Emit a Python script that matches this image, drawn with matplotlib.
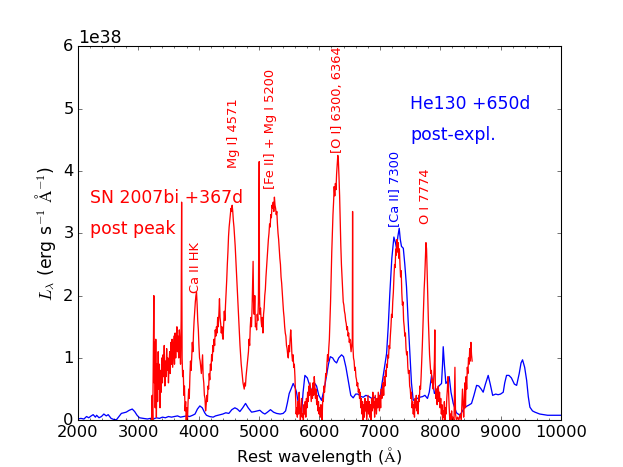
import numpy as np
import matplotlib
matplotlib.use("Agg")
import matplotlib.pyplot as plt
from matplotlib.ticker import MultipleLocator

plt.style.use('classic')

# SN 2007bi, +367d (units of 1e38 erg/s/A)
sn_wave = [3220, 3230, 3240, 3250, 3258, 3265, 3272, 3280, 3290, 3300,
           3310, 3320, 3330, 3340, 3350, 3360, 3370, 3380, 3390, 3400,
           3410, 3420, 3430, 3440, 3450, 3460, 3470, 3480, 3490, 3500,
           3510, 3520, 3530, 3540, 3550, 3560, 3570, 3580, 3590, 3600,
           3610, 3620, 3630, 3640, 3650, 3660, 3670, 3680, 3690, 3700,
           3710, 3718, 3726, 3735, 3745, 3755, 3765, 3775, 3785, 3795,
           3805, 3815, 3825, 3835, 3845, 3855, 3865, 3875, 3885, 3895,
           3905, 3915, 3925, 3935, 3945, 3955, 3965, 3975, 3985, 3995,
           4005, 4015, 4025, 4035, 4045, 4055, 4065, 4075, 4085, 4095,
           4105, 4115, 4125, 4135, 4145, 4155, 4165, 4175, 4185, 4195,
           4205, 4215, 4225, 4235, 4245, 4255, 4265, 4275, 4285, 4295,
           4305, 4315, 4325, 4335, 4345, 4355, 4365, 4375, 4385, 4395,
           4405, 4415, 4425, 4435, 4445, 4455, 4465, 4475, 4485, 4495,
           4505, 4515, 4525, 4535, 4545, 4555, 4565, 4575, 4585, 4595,
           4605, 4615, 4625, 4635, 4645, 4655, 4665, 4675, 4685, 4695,
           4705, 4715, 4725, 4735, 4745, 4755, 4765, 4775, 4785, 4795,
           4805, 4815, 4825, 4835, 4845, 4855, 4865, 4875, 4885, 4895,
           4902, 4910, 4920, 4930, 4940, 4950, 4960, 4970, 4980, 4990,
           4998, 5003, 5008, 5015, 5025, 5035, 5045, 5055, 5065, 5075,
           5085, 5095, 5105, 5115, 5125, 5135, 5145, 5155, 5165, 5175,
           5185, 5195, 5205, 5215, 5225, 5235, 5245, 5255, 5265, 5275,
           5285, 5295, 5305, 5315, 5325, 5335, 5345, 5355, 5365, 5375,
           5385, 5395, 5405, 5415, 5425, 5435, 5445, 5455, 5465, 5475,
           5485, 5495, 5505, 5515, 5525, 5535, 5545, 5555, 5565, 5575,
           5585, 5595, 5605, 5615, 5625, 5635, 5645, 5655, 5665, 5675,
           5685, 5695, 5705, 5715, 5725, 5735, 5745, 5755, 5765, 5775,
           5785, 5795, 5805, 5815, 5825, 5835, 5845, 5855, 5865, 5875,
           5885, 5895, 5905, 5915, 5925, 5935, 5945, 5955, 5965, 5975,
           5985, 5995, 6005, 6015, 6025, 6035, 6045, 6055, 6065, 6075,
           6085, 6095, 6105, 6115, 6125, 6135, 6145, 6155, 6165, 6175,
           6185, 6195, 6205, 6215, 6225, 6235, 6245, 6255, 6265, 6275,
           6285, 6295, 6305, 6315, 6325, 6335, 6345, 6355, 6365, 6375,
           6385, 6395, 6405, 6415, 6425, 6435, 6445, 6455, 6465, 6475,
           6485, 6495, 6505, 6515, 6525, 6535, 6545, 6550, 6555, 6565,
           6575, 6585, 6595, 6605, 6615, 6625, 6635, 6645, 6655, 6665,
           6675, 6685, 6695, 6705, 6715, 6725, 6735, 6745, 6755, 6765,
           6775, 6785, 6795, 6805, 6815, 6825, 6835, 6845, 6855, 6865,
           6875, 6885, 6895, 6905, 6915, 6925, 6935, 6945, 6955, 6965,
           6975, 6985, 6995, 7005, 7015, 7025, 7035, 7045, 7055, 7065,
           7075, 7085, 7095, 7105, 7115, 7125, 7135, 7145, 7155, 7165,
           7175, 7185, 7195, 7205, 7215, 7225, 7235, 7245, 7255, 7265,
           7275, 7285, 7295, 7305, 7315, 7325, 7335, 7345, 7355, 7365,
           7375, 7385, 7395, 7405, 7415, 7425, 7435, 7445, 7455, 7465,
           7475, 7485, 7495, 7505, 7515, 7525, 7535, 7545, 7555, 7565,
           7575, 7585, 7595, 7605, 7615, 7625, 7635, 7645, 7655, 7665,
           7675, 7685, 7695, 7705, 7715, 7725, 7735, 7745, 7755, 7765,
           7775, 7785, 7795, 7805, 7815, 7825, 7835, 7845, 7855, 7865,
           7875, 7885, 7895, 7905, 7912, 7920, 7930, 7940, 7950, 7960,
           7970, 7980, 7990, 8000, 8010, 8020, 8030, 8040, 8050, 8060,
           8070, 8080, 8090, 8100, 8110, 8120, 8130, 8140, 8150, 8160,
           8170, 8180, 8190, 8200, 8210, 8230, 8245, 8255, 8270, 8290,
           8310, 8330, 8350, 8370, 8390, 8400, 8410, 8420, 8430, 8440,
           8450, 8460, 8470, 8480, 8490, 8500, 8510, 8520, 8530]
sn_lum = [0.0, 0.4, 0.0, 1.1, 2.0, 0.6, 1.25, 0.2, 1.3, 0.05,
          0.9, 0.3, 1.1, 0.5, 0.9, 0.2, 0.8, 0.45, 1.0, 0.6,
          1.05, 0.7, 1.2, 0.55, 0.95, 0.7, 1.15, 0.8, 1.0, 0.6,
          0.9, 1.1, 0.75, 1.25, 0.9, 1.3, 0.85, 1.1, 1.35, 0.9,
          1.4, 1.0, 1.3, 1.5, 1.1, 1.35, 1.0, 1.45, 1.2, 0.9,
          1.6, 3.5, 1.0, 0.7, 0.8, 0.4, 0.55, 0.15, 0.3, 0.0,
          0.2, 0.0, 0.3, 0.5, 0.35, 0.7, 0.95, 0.8, 1.0, 1.25,
          1.1, 1.4, 1.6, 1.75, 1.9, 2.0, 2.05, 1.85, 1.6, 1.45,
          1.2, 1.0, 0.95, 0.85, 0.75, 0.9, 1.05, 0.7, 0.6, 0.4,
          0.35, 0.15, 0.25, 0.4, 0.3, 0.55, 0.5, 0.75, 0.65, 0.9,
          0.8, 1.05, 0.95, 1.2, 1.1, 1.3, 1.2, 1.45, 1.35, 1.5,
          1.4, 1.65, 1.5, 1.7, 1.95, 1.65, 1.55, 1.4, 1.5, 1.35,
          1.3, 1.55, 1.75, 1.6, 1.85, 2.05, 2.25, 2.5, 2.7, 2.95,
          3.1, 3.2, 3.3, 3.4, 3.35, 3.45, 3.35, 3.2, 3.1, 2.95,
          2.8, 2.6, 2.4, 2.2, 2.0, 1.8, 1.6, 1.4, 1.2, 1.05,
          0.9, 0.8, 0.7, 0.6, 0.55, 0.5, 0.6, 0.55, 0.7, 0.8,
          0.9, 1.0, 1.1, 1.3, 1.2, 1.5, 1.65, 1.5, 1.8, 2.2,
          2.55, 1.9, 1.7, 2.0, 1.5, 1.55, 1.45, 1.7, 1.6, 1.9,
          3.2, 4.15, 2.0, 1.7, 1.8, 1.6, 1.5, 1.65, 1.4, 1.7,
          1.8, 2.0, 2.1, 2.3, 2.45, 2.6, 2.75, 2.9, 3.0, 3.15,
          3.1, 3.3, 3.25, 3.45, 3.4, 3.5, 3.35, 3.58, 3.45, 3.4,
          3.3, 3.35, 3.15, 3.0, 2.9, 2.75, 2.6, 2.5, 2.3, 2.2,
          2.05, 1.9, 1.75, 1.65, 1.5, 1.4, 1.35, 1.2, 1.15, 1.05,
          1.0, 1.2, 1.1, 1.3, 1.45, 1.3, 1.05, 0.95, 1.05, 0.85,
          0.9, 0.7, 0.4, 0.1, 0.2, 0.05, 0.3, 0.1, 0.45, 0.2,
          0.0, 0.15, 0.35, 0.05, 0.1, 0.0, 0.25, 0.1, 0.3, 0.05,
          0.35, 0.2, 0.45, 0.3, 0.55, 0.4, 0.6, 0.45, 0.3, 0.5,
          0.35, 0.6, 0.4, 0.7, 0.55, 0.35, 0.5, 0.25, 0.4, 0.15,
          0.3, 0.1, 0.2, 0.05, 0.25, 0.15, 0.0, 0.35, 0.3, 0.55,
          0.45, 0.6, 0.75, 0.7, 0.9, 1.05, 0.95, 1.15, 1.3, 1.6,
          1.9, 2.3, 2.7, 3.0, 3.3, 3.5, 3.75, 3.6, 3.8, 3.7,
          3.95, 4.1, 4.25, 4.15, 3.9, 3.6, 3.2, 2.8, 2.5, 2.3,
          2.1, 1.9, 1.85, 1.75, 1.7, 1.6, 1.55, 1.45, 1.5, 1.35,
          1.4, 1.25, 1.3, 1.2, 1.1, 1.2, 1.3, 3.35, 1.2, 1.0,
          0.95, 0.8, 0.85, 0.7, 0.65, 0.55, 0.6, 0.45, 0.5, 0.35,
          0.45, 0.2, 0.35, 0.1, 0.3, 0.0, 0.25, 0.05, 0.35, 0.15,
          0.3, 0.0, 0.2, 0.4, 0.1, 0.3, 0.05, 0.25, 0.0, 0.35,
          0.15, 0.45, 0.2, 0.3, 0.05, 0.4, 0.25, 0.1, 0.35, 0.2,
          0.45, 0.3, 0.15, 0.4, 0.2, 0.5, 0.35, 0.45, 0.6, 0.4,
          0.7, 0.55, 0.8, 0.7, 0.9, 0.85, 1.05, 1.0, 1.2, 1.15,
          1.35, 1.5, 1.7, 1.65, 1.9, 2.05, 2.3, 2.5, 2.45, 2.75,
          2.65, 2.9, 2.7, 2.85, 2.6, 2.75, 2.5, 2.3, 2.4, 2.05,
          1.85, 1.9, 1.6, 1.5, 1.35, 1.4, 1.15, 1.05, 1.1, 0.85,
          0.75, 0.8, 0.55, 0.5, 0.35, 0.45, 0.2, 0.3, 0.1, 0.25,
          0.05, 0.35, 0.2, 0.4, 0.15, 0.3, 0.1, 0.4, 0.3, 0.55,
          0.5, 0.7, 0.95, 1.2, 1.5, 1.85, 2.1, 2.3, 2.6, 2.85,
          2.75, 2.4, 2.0, 1.6, 1.3, 1.05, 0.9, 0.75, 0.8, 0.6,
          0.65, 0.5, 0.7, 0.95, 1.45, 0.6, 0.35, 0.5, 0.25, 0.45,
          0.55, 0.3, 0.45, 0.2, 0.35, 0.1, 0.25, 0.0, 0.15, 0.05,
          0.3, 0.0, 0.2, 0.1, 0.35, 0.5, 0.7, 0.45, 0.2, 0.0,
          0.1, 0.0, 0.15, 0.0, 0.05, 0.0, 0.85, 0.1, 0.0, 0.05,
          0.0, 0.1, 0.0, 0.5, 0.05, 0.3, 0.6, 0.2, 0.7, 0.5,
          0.85, 0.75, 1.0, 0.9, 1.15, 0.95, 1.25, 1.05, 0.95]

# He130 model, +650d (units of 1e38 erg/s/A)
he_wave = [2000, 2050, 2100, 2143, 2180, 2220, 2253, 2290, 2310, 2350,
           2390, 2430, 2470, 2502, 2550, 2600, 2640, 2680, 2720, 2760,
           2800, 2850, 2900, 2940, 2980, 3020, 3080, 3150, 3200, 3250,
           3300, 3350, 3400, 3450, 3500, 3550, 3600, 3650, 3700, 3750,
           3800, 3850, 3900, 3940, 3980, 4020, 4060, 4100, 4130, 4180,
           4240, 4280, 4320, 4360, 4400, 4450, 4500, 4550, 4600, 4640,
           4683, 4730, 4777, 4820, 4877, 4930, 4970, 5014, 5060, 5097,
           5140, 5190, 5240, 5290, 5350, 5400, 5440, 5470, 5500, 5530,
           5566, 5600, 5621, 5650, 5677, 5704, 5730, 5760, 5800, 5842,
           5870, 5898, 5925, 5953, 5990, 6036, 6080, 6119, 6150, 6180,
           6220, 6250, 6285, 6320, 6367, 6400, 6440, 6477, 6520, 6560,
           6600, 6640, 6690, 6726, 6770, 6820, 6870, 6919, 6950, 6974,
           7000, 7030, 7070, 7113, 7140, 7167, 7200, 7234, 7260, 7277,
           7300, 7322, 7340, 7360, 7390, 7415, 7443, 7470, 7499, 7525,
           7554, 7600, 7665, 7710, 7748, 7790, 7820, 7858, 7880, 7905,
           7940, 7980, 8023, 8040, 8051, 8070, 8095, 8120, 8150, 8180,
           8217, 8270, 8327, 8370, 8410, 8470, 8520, 8560, 8604, 8640,
           8680, 8713, 8750, 8796, 8830, 8870, 8920, 8960, 9000, 9045,
           9070, 9100, 9140, 9180, 9230, 9267, 9310, 9340, 9365, 9400,
           9433, 9460, 9487, 9530, 9570, 9650, 9720, 9780, 9880, 10000]
he_lum = [0.02, 0.03, 0.02, 0.06, 0.04, 0.07, 0.09, 0.05, 0.08, 0.04,
          0.06, 0.1, 0.07, 0.09, 0.03, 0.01, 0.01, 0.06, 0.11, 0.12,
          0.13, 0.16, 0.18, 0.14, 0.08, 0.04, 0.03, 0.02, 0.03, 0.02,
          0.04, 0.03, 0.05, 0.04, 0.06, 0.05, 0.06, 0.07, 0.05, 0.06,
          0.07, 0.06, 0.08, 0.1, 0.18, 0.23, 0.2, 0.12, 0.08, 0.06,
          0.05, 0.07, 0.08, 0.09, 0.1, 0.12, 0.11, 0.17, 0.2, 0.18,
          0.14, 0.2, 0.27, 0.2, 0.13, 0.14, 0.15, 0.16, 0.12, 0.1,
          0.13, 0.17, 0.13, 0.11, 0.1, 0.11, 0.15, 0.28, 0.43, 0.5,
          0.59, 0.52, 0.45, 0.28, 0.14, 0.12, 0.45, 0.72, 0.68, 0.55,
          0.48, 0.44, 0.59, 0.55, 0.4, 0.32, 0.5, 0.72, 0.9, 1.02,
          1.0, 0.95, 0.92, 1.0, 1.05, 1.02, 0.85, 0.64, 0.4, 0.36,
          0.42, 0.42, 0.38, 0.37, 0.4, 0.38, 0.35, 0.37, 0.3, 0.21,
          0.35, 0.54, 0.8, 1.07, 1.5, 2.04, 2.6, 2.94, 2.85, 2.76,
          2.95, 3.08, 2.9, 2.79, 2.76, 2.5, 2.14, 1.6, 1.07, 0.6,
          0.32, 0.34, 0.37, 0.38, 0.4, 0.35, 0.45, 0.72, 0.6, 0.43,
          0.48, 0.55, 0.59, 0.9, 1.18, 0.9, 0.59, 0.62, 0.7, 0.45,
          0.27, 0.12, 0.08, 0.15, 0.21, 0.24, 0.27, 0.4, 0.56, 0.55,
          0.5, 0.45, 0.58, 0.72, 0.58, 0.4, 0.42, 0.41, 0.42, 0.45,
          0.6, 0.72, 0.72, 0.68, 0.58, 0.56, 0.75, 0.92, 0.97, 0.85,
          0.64, 0.38, 0.21, 0.15, 0.13, 0.1, 0.09, 0.08, 0.08, 0.08]

line_ids = ["Ca II HK", "Mg I] 4571", "[Fe II] + Mg I 5200",
            "[O I] 6300, 6364", "[Ca II] 7300", "O I 7774"]
line_x = [3940, 4572, 5190, 6295, 7250, 7765]
line_y = [2.05, 4.05, 3.72, 4.3, 3.1, 3.15]
line_colors = ['r', 'r', 'r', 'r', 'b', 'r']

scale = 1e38

fig = plt.figure(figsize=(8, 6), dpi=77.9, facecolor='w')
ax = fig.add_subplot(111)

ax.plot(he_wave, np.array(he_lum) * scale, 'b-', lw=1.2)
ax.plot(sn_wave, np.array(sn_lum) * scale, 'r-', lw=1.2)

for name, x, y, c in zip(line_ids, line_x, line_y, line_colors):
    ax.text(x, y * scale, name, color=c, rotation=90, fontsize=12,
            ha='center', va='bottom')

ax.text(2200, 3.5 * scale, "SN 2007bi +367d", color='r', fontsize=16)
ax.text(2200, 3.0 * scale, "post peak", color='r', fontsize=16)
ax.text(7500, 5.0 * scale, "He130 +650d", color='b', fontsize=16)
ax.text(7500, 4.5 * scale, "post-expl.", color='b', fontsize=16)

ax.set_xlim(2000, 10000)
ax.set_ylim(0, 6e38)
ax.xaxis.set_minor_locator(MultipleLocator(200))
ax.tick_params(labelsize=15)
ax.yaxis.get_offset_text().set_fontsize(16)

ax.set_xlabel(r"Rest wavelength ($\rm \AA$)", fontsize=15)
ax.set_ylabel(r"$L_{\lambda}$ (erg s$^{-1}$ $\rm\AA^{-1}$)", fontsize=16)

fig.savefig("out.png", dpi=77.9, facecolor='w')
